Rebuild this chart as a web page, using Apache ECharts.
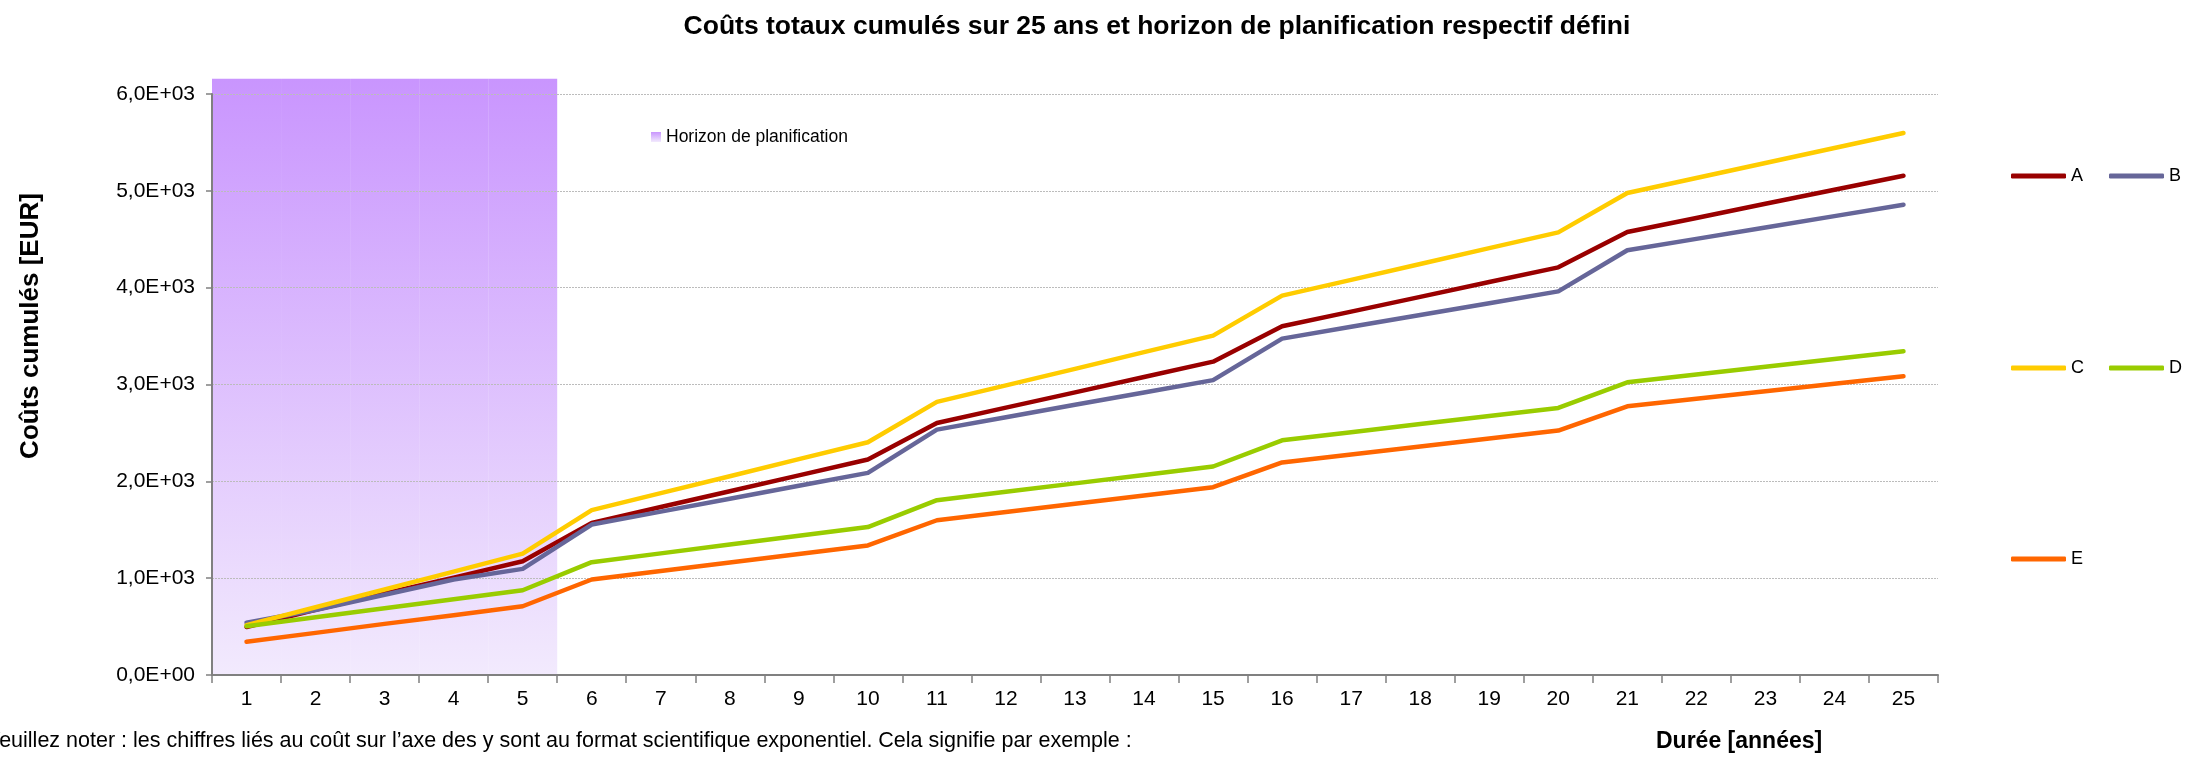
<!DOCTYPE html>
<html>
<head>
<meta charset="utf-8">
<script src="https://cdn.jsdelivr.net/npm/echarts@6/dist/echarts.min.js"></script>
<style>
  html, body { margin: 0; padding: 0; background: #fff; }
  #main { width: 2198px; height: 757px; }
</style>
</head>
<body>
<div id="main"></div>
<script>
  // années
  const years = ['1','2','3','4','5','6','7','8','9','10','11','12','13','14','15','16','17','18','19','20','21','22','23','24','25']
  // coûts cumulés [EUR]
  const serieA = [495, 673, 841, 1006, 1175, 1571, 1735, 1898, 2062, 2225, 2603, 2761, 2919, 3078, 3236, 3601, 3753, 3905, 4058, 4210, 4575, 4720, 4866, 5011, 5156]
  const serieB = [540, 672, 828, 986, 1096, 1554, 1687, 1820, 1954, 2087, 2534, 2662, 2790, 2917, 3045, 3474, 3596, 3718, 3840, 3962, 4386, 4504, 4622, 4739, 4857]
  const serieC = [515, 700, 883, 1068, 1254, 1702, 1878, 2053, 2229, 2404, 2820, 2991, 3162, 3334, 3505, 3918, 4081, 4244, 4408, 4571, 4978, 5133, 5288, 5442, 5597]
  const serieD = [504, 597, 690, 783, 875, 1165, 1256, 1347, 1437, 1528, 1805, 1892, 1979, 2066, 2153, 2424, 2508, 2591, 2675, 2758, 3023, 3103, 3183, 3263, 3343]
  const serieE = [343, 435, 528, 617, 710, 986, 1074, 1162, 1250, 1338, 1598, 1683, 1768, 1854, 1939, 2195, 2277, 2360, 2442, 2524, 2775, 2853, 2930, 3008, 3085]
  // horizon de planification (années 1 à 5)
  const horizon = [6158, 6158, 6158, 6158, 6158]

  const FONT = "'Liberation Sans', Arial, sans-serif"

  // 6000 -> "6,0E+03"
  function sci(v) {
    if (v === 0) return '0,0E+00'
    const e = Math.floor(Math.log10(Math.abs(v)))
    const m = v / Math.pow(10, e)
    return m.toFixed(1).replace('.', ',') + 'E' + (e < 0 ? '-' : '+') + String(Math.abs(e)).padStart(2, '0')
  }

  function lineSerie(name, data, color) {
    return {
      name: name,
      type: 'line',
      data: data,
      symbol: 'none',
      smooth: false,
      z: 3,
      lineStyle: { color: color, width: 4.5, cap: 'round', join: 'round' },
      itemStyle: { color: color }
    }
  }

  const legendText = { fontFamily: FONT, fontSize: 18, color: '#000' }

  const chart = echarts.init(document.getElementById('main'))
  chart.setOption({
    animation: false,
    backgroundColor: '#fff',
    title: {
      text: 'Coûts totaux cumulés sur 25 ans et horizon de planification respectif défini',
      left: 1152,
      top: 8,
      textAlign: 'center',
      textStyle: { fontFamily: FONT, fontSize: 26.5, fontWeight: 'bold', color: '#000' }
    },
    grid: {
      left: 212,
      right: 260,
      top: 94,
      bottom: 82,
      containLabel: false,
      outerBoundsMode: 'none'
    },
    legend: [
      {
        data: ['Horizon de planification'],
        left: 646, top: 123,
        icon: 'rect', itemWidth: 10, itemHeight: 10,
        textStyle: { fontFamily: FONT, fontSize: 17.5, color: '#000' }
      },
      {
        data: ['A', 'B'],
        left: 2006, top: 162, itemGap: 26,
        icon: 'roundRect', itemWidth: 55, itemHeight: 5,
        textStyle: legendText
      },
      {
        data: ['C', 'D'],
        left: 2006, top: 354, itemGap: 25,
        icon: 'roundRect', itemWidth: 55, itemHeight: 5,
        textStyle: legendText
      },
      {
        data: ['E'],
        left: 2006, top: 545,
        icon: 'roundRect', itemWidth: 55, itemHeight: 5,
        textStyle: legendText
      }
    ],
    xAxis: {
      type: 'category',
      data: years,
      boundaryGap: true,
      axisLine: { show: true, lineStyle: { color: '#808080', width: 2 } },
      axisTick: { show: true, length: 8, lineStyle: { color: '#808080', width: 1.5 } },
      axisLabel: { fontFamily: FONT, fontSize: 21, color: '#000', margin: 14, interval: 0 },
      splitLine: { show: false }
    },
    yAxis: {
      type: 'value',
      min: 0,
      max: 6000,
      interval: 1000,
      axisLine: { show: true, lineStyle: { color: '#808080', width: 2 } },
      axisTick: { show: true, length: 6, lineStyle: { color: '#808080', width: 1.5 } },
      axisLabel: { fontFamily: FONT, fontSize: 21, color: '#000', margin: 17, formatter: sci },
      splitLine: { show: true, lineStyle: { color: '#bcbcbc', width: 1, type: [2, 1] } }
    },
    graphic: [
      {
        type: 'text',
        x: 31, y: 326,
        rotation: Math.PI / 2,
        style: {
          text: 'Coûts cumulés [EUR]',
          font: 'bold 26px ' + FONT,
          fill: '#000',
          textAlign: 'center',
          textVerticalAlign: 'middle'
        }
      },
      {
        type: 'text',
        x: -14, y: 741,
        style: {
          text: 'Veuillez noter : les chiffres liés au coût sur l’axe des y sont au format scientifique exponentiel. Cela signifie par exemple :',
          font: '21.5px ' + FONT,
          fill: '#000',
          textAlign: 'left',
          textVerticalAlign: 'middle'
        }
      },
      {
        type: 'text',
        x: 1656, y: 742,
        style: {
          text: 'Durée [années]',
          font: 'bold 23px ' + FONT,
          fill: '#000',
          textAlign: 'left',
          textVerticalAlign: 'middle'
        }
      }
    ],
    series: [
      {
        name: 'Horizon de planification',
        type: 'bar',
        data: horizon,
        barWidth: '100%',
        barGap: '0%',
        clip: false,
        z: -1,
        itemStyle: {
          color: new echarts.graphic.LinearGradient(0, 0, 0, 1, [
            { offset: 0, color: '#c995fe' },
            { offset: 1, color: '#f2eafd' }
          ])
        }
      },
      lineSerie('A', serieA, '#990000'),
      lineSerie('B', serieB, '#666699'),
      lineSerie('C', serieC, '#ffcc00'),
      lineSerie('D', serieD, '#99cc00'),
      lineSerie('E', serieE, '#ff6600')
    ]
  })
</script>
</body>
</html>
